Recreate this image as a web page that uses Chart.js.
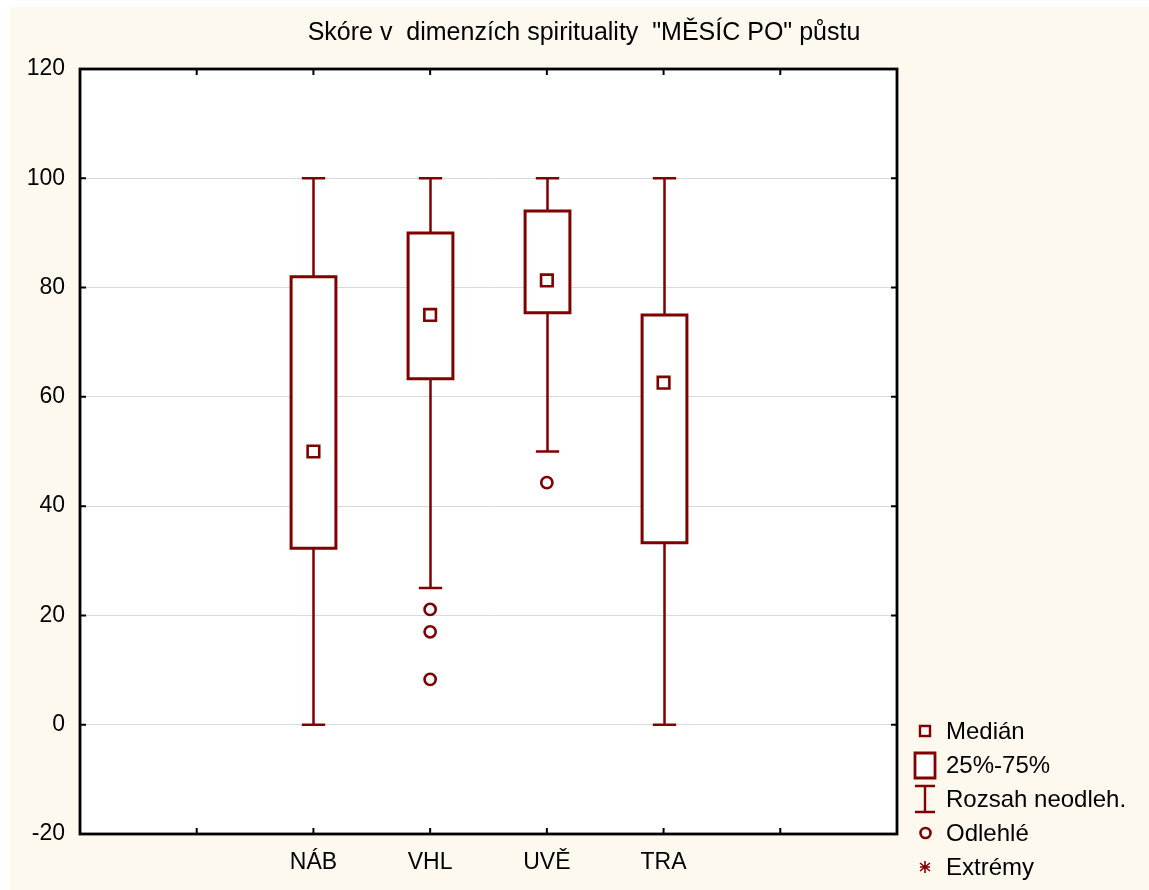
<!DOCTYPE html>
<html>
<head>
<meta charset="utf-8">
<title>Skóre v dimenzích spirituality</title>
<script src="https://cdn.jsdelivr.net/npm/chart.js@4.4.1/dist/chart.umd.min.js"></script>
<style>
  html, body { margin: 0; padding: 0; background: #ffffff; }
  #wrap { width: 1149px; height: 890px; }
  canvas { display: block; }
</style>
</head>
<body>
<div id="wrap"><canvas id="c" width="1149" height="890"></canvas></div>
<script>
// Box plot data: one entry per spirituality dimension
const categories   = ['NÁB', 'VHL', 'UVĚ', 'TRA'];
const whiskerLow   = [0, 25, 50, 0];
const quartile1    = [32.3, 63.3, 75.4, 33.3];
const medians      = [50, 75, 81.3, 62.6];
const quartile3    = [82, 90, 94, 75];
const whiskerHigh  = [100, 100, 100, 100];
const outliers     = [[], [21.1, 17.0, 8.3], [44.3], []];

const titleText = 'Skóre v  dimenzích spirituality  "MĚSÍC PO" půstu';
const legendLabels = ['Medián', '25%-75%', 'Rozsah neodleh.', 'Odlehlé', 'Extrémy'];

const RED = '#800000';
const FONT = '"Liberation Sans", Arial, sans-serif';
const FIRST_SLOT = 2;   // categories sit on x = 2..5 of a 0..7 axis

const slotOf = i => i + FIRST_SLOT;

const medianPoints = categories.map((c, i) => ({ x: slotOf(i), y: medians[i] }));
const outlierPoints = [];
outliers.forEach((list, i) => list.forEach(v => outlierPoints.push({ x: slotOf(i), y: v })));

// Backgrounds: cream page, white plotting area
const backgroundPlugin = {
  id: 'background',
  beforeDraw(chart) {
    const { ctx, chartArea: a, width, height } = chart;
    ctx.save();
    ctx.fillStyle = '#ffffff';
    ctx.fillRect(0, 0, width, height);
    ctx.fillStyle = '#fef9ef';
    ctx.fillRect(10, 7, width - 10, height - 7);
    ctx.fillStyle = '#ffffff';
    ctx.fillRect(a.left, a.top, a.right - a.left, a.bottom - a.top);
    ctx.restore();
  }
};

// Boxes and whiskers, positioned through the chart's scales
const boxPlugin = {
  id: 'boxes',
  beforeDatasetsDraw(chart) {
    const { ctx, scales: { x, y } } = chart;
    const slotPx = x.getPixelForValue(1) - x.getPixelForValue(0);
    const halfBox = slotPx * 0.192;
    const halfCap = slotPx * 0.1;
    ctx.save();
    ctx.strokeStyle = RED;
    categories.forEach((c, i) => {
      const cx = Math.round(x.getPixelForValue(slotOf(i))) + 0.5;
      const yLo = y.getPixelForValue(whiskerLow[i]);
      const yQ1 = y.getPixelForValue(quartile1[i]);
      const yQ3 = y.getPixelForValue(quartile3[i]);
      const yHi = y.getPixelForValue(whiskerHigh[i]);
      // whiskers
      ctx.lineWidth = 2.5;
      ctx.beginPath();
      ctx.moveTo(cx, yQ1); ctx.lineTo(cx, yLo);
      ctx.moveTo(cx, yQ3); ctx.lineTo(cx, yHi);
      ctx.moveTo(cx - halfCap, yLo); ctx.lineTo(cx + halfCap, yLo);
      ctx.moveTo(cx - halfCap, yHi); ctx.lineTo(cx + halfCap, yHi);
      ctx.stroke();
      // interquartile box
      ctx.lineWidth = 3;
      ctx.fillStyle = '#ffffff';
      ctx.beginPath();
      ctx.rect(cx - halfBox, yQ3, halfBox * 2, yQ1 - yQ3);
      ctx.fill();
      ctx.stroke();
    });
    ctx.restore();
  }
};

// Frame with inward tick marks on all four sides
const framePlugin = {
  id: 'frame',
  afterDraw(chart) {
    const { ctx, chartArea: a, scales: { x, y } } = chart;
    const len = 6;
    ctx.save();
    ctx.strokeStyle = '#000000';
    ctx.lineWidth = 2;
    ctx.beginPath();
    for (let v = 1; v <= 6; v++) {
      const px = x.getPixelForValue(v);
      ctx.moveTo(px, a.top); ctx.lineTo(px, a.top + len);
      ctx.moveTo(px, a.bottom); ctx.lineTo(px, a.bottom - len);
    }
    for (let v = 0; v <= 100; v += 20) {
      const py = y.getPixelForValue(v);
      ctx.moveTo(a.left, py); ctx.lineTo(a.left + len, py);
      ctx.moveTo(a.right, py); ctx.lineTo(a.right - len, py);
    }
    ctx.stroke();
    ctx.lineWidth = 2.8;
    ctx.strokeRect(a.left, a.top, a.right - a.left, a.bottom - a.top);
    ctx.restore();
  }
};

// Title and the key at the lower right
const textPlugin = {
  id: 'texts',
  afterDraw(chart) {
    const { ctx } = chart;
    ctx.save();
    ctx.fillStyle = '#000000';
    ctx.textAlign = 'center';
    ctx.textBaseline = 'middle';
    ctx.font = '25px "Liberation Sans Narrow", "Arial Narrow", ' + FONT;
    ctx.fillText(titleText, 584, 33);

    const mx = 925, tx = 946, y0 = 731, step = 34;
    ctx.strokeStyle = RED;
    ctx.fillStyle = '#ffffff';
    // median square
    let yy = y0;
    ctx.lineWidth = 2.4;
    ctx.beginPath(); ctx.rect(mx - 5, yy - 5, 10, 10); ctx.fill(); ctx.stroke();
    // quartile box
    yy = y0 + step;
    ctx.lineWidth = 2.8;
    ctx.beginPath(); ctx.rect(mx - 10, yy - 12, 20, 25); ctx.fill(); ctx.stroke();
    // whisker range
    yy = y0 + step * 2;
    ctx.lineWidth = 2.4;
    ctx.beginPath();
    ctx.moveTo(mx - 10, yy - 13); ctx.lineTo(mx + 10, yy - 13);
    ctx.moveTo(mx, yy - 13); ctx.lineTo(mx, yy + 13);
    ctx.moveTo(mx - 10, yy + 13); ctx.lineTo(mx + 10, yy + 13);
    ctx.stroke();
    // outlier circle
    yy = y0 + step * 3;
    ctx.lineWidth = 2.6;
    ctx.beginPath(); ctx.arc(mx + 0.5, yy, 5, 0, Math.PI * 2); ctx.fill(); ctx.stroke();
    // extreme asterisk
    yy = y0 + step * 4;
    ctx.lineWidth = 1.6;
    ctx.beginPath();
    ctx.moveTo(mx, yy - 6); ctx.lineTo(mx, yy + 6);
    ctx.moveTo(mx - 5, yy - 4); ctx.lineTo(mx + 5, yy + 4);
    ctx.moveTo(mx + 5, yy - 4); ctx.lineTo(mx - 5, yy + 4);
    ctx.moveTo(mx - 5, yy); ctx.lineTo(mx + 5, yy);
    ctx.stroke();

    ctx.fillStyle = '#000000';
    ctx.textAlign = 'left';
    ctx.font = '24px ' + FONT;
    legendLabels.forEach((t, i) => ctx.fillText(t, tx, y0 + step * i + 1));
    ctx.restore();
  }
};

new Chart(document.getElementById('c'), {
  type: 'scatter',
  data: {
    datasets: [
      {
        label: 'Medián',
        data: medianPoints,
        pointStyle: 'rect',
        pointRadius: 8.2,
        pointHoverRadius: 8.2,
        borderColor: RED,
        backgroundColor: '#ffffff',
        pointBorderWidth: 2.6
      },
      {
        label: 'Odlehlé',
        data: outlierPoints,
        pointStyle: 'circle',
        pointRadius: 5.6,
        pointHoverRadius: 5.6,
        borderColor: RED,
        backgroundColor: '#ffffff',
        pointBorderWidth: 2.6
      }
    ]
  },
  options: {
    responsive: false,
    devicePixelRatio: 1,
    animation: false,
    events: [],
    layout: { padding: { top: 69, right: 252, bottom: 0, left: 0 } },
    plugins: {
      legend: { display: false },
      title: { display: false },
      tooltip: { enabled: false }
    },
    scales: {
      x: {
        type: 'linear',
        min: 0,
        max: 7,
        afterFit: s => { s.height = 56; },
        border: { display: false },
        grid: { display: false, drawTicks: false },
        ticks: {
          stepSize: 1,
          autoSkip: false,
          maxRotation: 0,
          padding: 15,
          color: '#000000',
          font: { family: FONT, size: 23 },
          callback: v => categories[v - FIRST_SLOT] ?? ''
        }
      },
      y: {
        min: -20,
        max: 120,
        afterFit: s => { s.width = 80; },
        border: { display: false },
        grid: {
          drawTicks: false,
          lineWidth: 1,
          color: c => (c.tick && (c.tick.value === -20 || c.tick.value === 120)) ? 'rgba(0,0,0,0)' : '#d9d9d9'
        },
        ticks: {
          stepSize: 20,
          padding: 15,
          color: '#000000',
          font: { family: FONT, size: 23 }
        }
      }
    }
  },
  plugins: [backgroundPlugin, boxPlugin, framePlugin, textPlugin]
});
</script>
</body>
</html>
